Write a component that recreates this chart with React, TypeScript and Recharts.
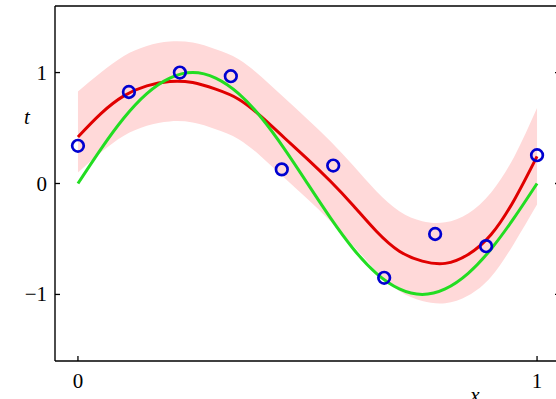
import React from 'react';
import { ComposedChart, Area, Line, Scatter, XAxis, YAxis } from 'recharts';

// Curve sample positions (x)
const curveX = [0, 0.05, 0.1, 0.15, 0.2, 0.25, 0.3, 0.35, 0.4, 0.45, 0.5, 0.55, 0.6, 0.65, 0.7, 0.75, 0.8, 0.85, 0.9, 0.95, 1.0];
// Predictive mean (red)
const meanT = [0.42, 0.63, 0.79, 0.88, 0.92, 0.91, 0.85, 0.76, 0.6, 0.41, 0.22, 0.02, -0.2, -0.43, -0.61, -0.7, -0.72, -0.64, -0.46, -0.15, 0.245];
// Predictive band (pink)
const bandUpper = [0.83, 1.0, 1.15, 1.24, 1.28, 1.27, 1.21, 1.12, 0.96, 0.77, 0.58, 0.38, 0.16, -0.07, -0.25, -0.34, -0.35, -0.27, -0.08, 0.24, 0.68];
const bandLower = [0.1, 0.28, 0.43, 0.52, 0.56, 0.55, 0.49, 0.4, 0.24, 0.05, -0.14, -0.34, -0.56, -0.79, -0.97, -1.06, -1.08, -1.01, -0.84, -0.54, -0.19];
// True function (green)
const trueT = [0, 0.31, 0.59, 0.81, 0.95, 1.0, 0.95, 0.81, 0.59, 0.31, 0, -0.31, -0.59, -0.81, -0.95, -1.0, -0.95, -0.81, -0.59, -0.31, 0];
// Observations (blue circles)
const obsX = [0, 0.111, 0.222, 0.333, 0.444, 0.556, 0.667, 0.778, 0.889, 1.0];
const obsT = [0.34, 0.825, 1.0, 0.967, 0.127, 0.162, -0.85, -0.455, -0.565, 0.255];
// Ticks
const xTicks = [0, 1];
const yTicks = [-1, 0, 1];
const xTickLabels = ['0', '1'];
const yTickLabels = ['\u22121', '0', '1'];

const curveData = curveX.map((x, i) => ({ x, mean: meanT[i], band: [bandLower[i], bandUpper[i]], truth: trueT[i] }));
const obsData = obsX.map((x, i) => ({ x, t: obsT[i] }));

const FONT = '"Liberation Serif", "DejaVu Serif", serif';
const TICK = 5;

const BottomTick = (p: any) => {
  const i = xTicks.indexOf(p.payload.value);
  return (
    <g>
      <line x1={p.x} x2={p.x} y1={p.y} y2={p.y - TICK} stroke="#000" strokeWidth={1.3} />
      <text x={p.x} y={p.y + 27} textAnchor="middle" fontFamily={FONT} fontSize={21} fill="#000">{xTickLabels[i]}</text>
    </g>
  );
};
const TopTick = (p: any) => (
  <line x1={p.x} x2={p.x} y1={p.y} y2={p.y + TICK} stroke="#000" strokeWidth={1.3} />
);
const LeftTick = (p: any) => {
  const i = yTicks.indexOf(p.payload.value);
  return (
    <g>
      <line x1={p.x} x2={p.x + TICK} y1={p.y} y2={p.y} stroke="#000" strokeWidth={1.3} />
      <text x={p.x - 8} y={p.y + 7} textAnchor="end" fontFamily={FONT} fontSize={21} fill="#000">{yTickLabels[i]}</text>
    </g>
  );
};
const RightTick = (p: any) => (
  <line x1={p.x} x2={p.x - TICK} y1={p.y} y2={p.y} stroke="#000" strokeWidth={1.3} />
);

const Ring = (p: any) => (
  <circle cx={p.cx} cy={p.cy} r={5.8} fill="none" stroke="#0000d0" strokeWidth={2.7} />
);

export default function App() {
  return (
    <div style={{ position: 'absolute', left: 0, top: 0, width: 556, height: 399, overflow: 'hidden', background: '#fff' }}>
      <ComposedChart width={600} height={412} margin={{ top: 0, right: 0, bottom: 0, left: 0 }}>
        <XAxis xAxisId="b" dataKey="x" type="number" domain={[-0.05, 1.05]} ticks={xTicks} orientation="bottom" height={51}
          tickSize={0} tickMargin={0} tickLine={false} axisLine={{ stroke: '#000', strokeWidth: 1.4 }} tick={<BottomTick />}
          allowDataOverflow
          label={{ content: (lp: any) => (
            <text x={lp.viewBox.x + 420} y={lp.viewBox.y + 41} textAnchor="middle" fontFamily={FONT} fontStyle="italic" fontSize={21} fill="#000">x</text>
          ) }} />
        <XAxis xAxisId="t" type="number" domain={[-0.05, 1.05]} ticks={xTicks} orientation="top" height={6}
          tickSize={0} tickMargin={0} tickLine={false} axisLine={{ stroke: '#000', strokeWidth: 1.4 }} tick={<TopTick />} allowDataOverflow />
        <YAxis yAxisId="l" type="number" domain={[-1.6, 1.6]} ticks={yTicks} orientation="left" width={55}
          tickSize={0} tickMargin={0} tickLine={false} axisLine={{ stroke: '#000', strokeWidth: 1.4 }} tick={<LeftTick />}
          allowDataOverflow
          label={{ content: () => (
            <text x={27} y={124} textAnchor="middle" fontFamily={FONT} fontStyle="italic" fontSize={21} fill="#000">t</text>
          ) }} />
        <YAxis yAxisId="r" type="number" domain={[-1.6, 1.6]} ticks={yTicks} orientation="right" width={40}
          tickSize={0} tickMargin={0} tickLine={false} axisLine={{ stroke: '#000', strokeWidth: 1.4 }} tick={<RightTick />} allowDataOverflow />
        <Area xAxisId="b" yAxisId="l" data={curveData} dataKey="band" type="natural" stroke="none" fill="#ffd9d9" fillOpacity={1} isAnimationActive={false} />
        <Line xAxisId="b" yAxisId="l" data={curveData} dataKey="mean" type="natural" stroke="#e00000" strokeWidth={3} dot={false} isAnimationActive={false} />
        <Line xAxisId="b" yAxisId="l" data={curveData} dataKey="truth" type="natural" stroke="#22dd22" strokeWidth={3} dot={false} isAnimationActive={false} />
        <Scatter xAxisId="b" yAxisId="l" data={obsData} dataKey="t" shape={<Ring />} isAnimationActive={false} />
      </ComposedChart>
    </div>
  );
}
